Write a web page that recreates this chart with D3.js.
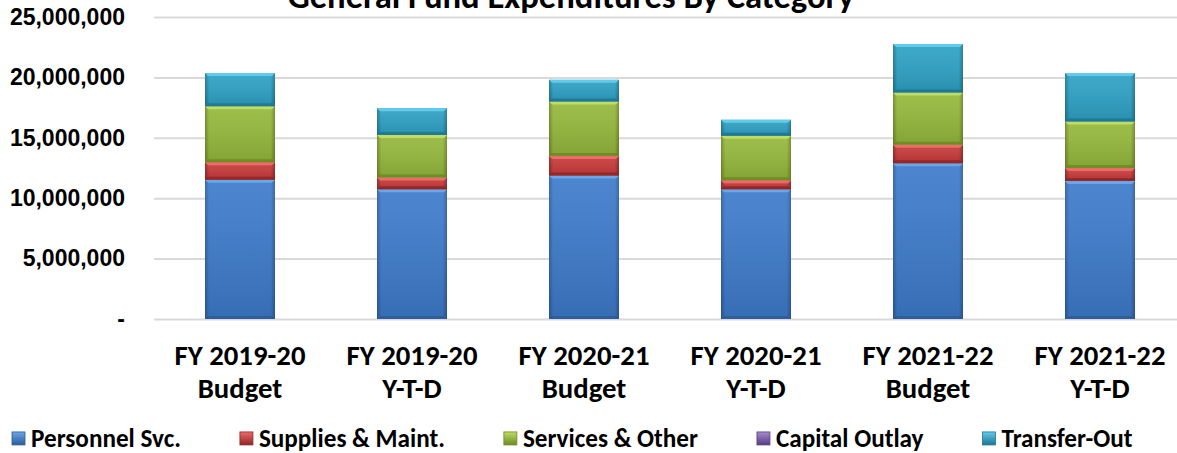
<!DOCTYPE html>
<html>
<head>
<meta charset="utf-8">
<script src="https://cdn.jsdelivr.net/npm/d3@7"></script>
<style>
  html, body { margin: 0; padding: 0; background: #ffffff; }
  svg { display: block; }
  .lbl { font-family: Calibri, Carlito, Lato, "Open Sans", sans-serif; font-weight: 700; fill: #000; }
  .ytick text { font-family: "Liberation Sans", Arial, sans-serif; font-weight: 700; font-size: 23px; fill: #000; }
</style>
</head>
<body>
<svg id="chart" width="1177" height="453"></svg>
<script>
// Category labels (two lines each)
const catYears = ["FY 2019-20", "FY 2019-20", "FY 2020-21", "FY 2020-21", "FY 2021-22", "FY 2021-22"];
const catKinds = ["Budget", "Y-T-D", "Budget", "Y-T-D", "Budget", "Y-T-D"];

// Expenditures by category, dollars
const personnel = [11520000, 10740000, 11870000, 10740000, 12900000, 11430000];
const supplies  = [1460000, 970000, 1630000, 750000, 1520000, 1060000];
const services  = [4640000, 3530000, 4500000, 3670000, 4330000, 3860000];
const capital   = [0, 0, 0, 0, 0, 0];
const transfer  = [2740000, 2210000, 1800000, 1330000, 4010000, 4010000];

const seriesNames = ["Personnel Svc.", "Supplies & Maint.", "Services & Other", "Capital Outlay", "Transfer-Out"];
const yTicks = [0, 5000000, 10000000, 15000000, 20000000, 25000000];

const titleText = "General Fund Expenditures By Category";

// palette: [main, light top, dark edge]
const palette = [
  ["#3d7bcb", "#6aa6e8", "#2c5c9c"],
  ["#c93a3a", "#ee6b6b", "#8f2525"],
  ["#95b93c", "#bedd62", "#6c8a22"],
  ["#7b5ba8", "#a689d0", "#573d7f"],
  ["#2ea2c6", "#62cbea", "#1d7592"]
];

const W = 1177, H = 453;
const svg = d3.select("#chart");
const defs = svg.append("defs");

const columns = [personnel, supplies, services, capital, transfer];
const table = catYears.map((c, i) => {
  const row = { key: c + " " + catKinds[i] };
  seriesNames.forEach((s, j) => row[s] = columns[j][i]);
  return row;
});
const stacked = d3.stack().keys(seriesNames)(table);

const plotLeft = 154, step = 172;
const x = d3.scaleBand()
  .domain(table.map(d => d.key))
  .range([plotLeft, plotLeft + step * table.length])
  .paddingInner(0.593)
  .paddingOuter(0.2965);
const y = d3.scaleLinear().domain([0, 25000000]).range([319, 17]);

// horizontal gradients for bar bodies
palette.forEach((p, j) => {
  const g = defs.append("linearGradient").attr("id", "body" + j)
    .attr("x1", "0").attr("x2", "1").attr("y1", "0").attr("y2", "0");
  g.append("stop").attr("offset", "0").attr("stop-color", p[2]);
  g.append("stop").attr("offset", "0.06").attr("stop-color", p[0]);
  g.append("stop").attr("offset", "0.94").attr("stop-color", p[0]);
  g.append("stop").attr("offset", "1").attr("stop-color", p[2]);
  const v = defs.append("linearGradient").attr("id", "shade" + j)
    .attr("x1", "0").attr("x2", "0").attr("y1", "0").attr("y2", "1");
  v.append("stop").attr("offset", "0").attr("stop-color", "#ffffff").attr("stop-opacity", 0.08);
  v.append("stop").attr("offset", "1").attr("stop-color", "#000000").attr("stop-opacity", 0.12);
  const m = defs.append("linearGradient").attr("id", "mark" + j)
    .attr("x1", "0").attr("x2", "0").attr("y1", "0").attr("y2", "1");
  m.append("stop").attr("offset", "0").attr("stop-color", p[1]);
  m.append("stop").attr("offset", "1").attr("stop-color", p[2]);
});

// gridlines and y labels
const yAxis = d3.axisLeft(y)
  .tickValues(yTicks)
  .tickSize(-(W - plotLeft))
  .tickPadding(29)
  .tickFormat(v => v === 0 ? "-" : d3.format(",")(v));
const ga = svg.append("g").attr("class", "ytick")
  .attr("transform", `translate(${plotLeft},0)`)
  .call(yAxis);
ga.select(".domain").remove();
ga.selectAll(".tick line").attr("stroke", "#d9d9d9").attr("stroke-width", 2);

// stacked bars with bevelled segments
const bw = x.bandwidth();
const bev = 3;
stacked.forEach((layer, j) => {
  const p = palette[j];
  const g = svg.append("g");
  layer.forEach((d, i) => {
    const y0 = y(d[0]), y1 = y(d[1]);
    const h = y0 - y1;
    if (h <= 0.5) return;
    const x0 = x(table[i].key);
    g.append("rect").attr("x", x0).attr("y", y1).attr("width", bw).attr("height", h)
      .attr("fill", `url(#body${j})`);
    g.append("rect").attr("x", x0).attr("y", y1).attr("width", bw).attr("height", h)
      .attr("fill", `url(#shade${j})`);
    const b = Math.min(bev, h / 3);
    g.append("polygon")
      .attr("points", [[x0, y1], [x0 + bw, y1], [x0 + bw - b, y1 + b], [x0 + b, y1 + b]].map(q => q.join(",")).join(" "))
      .attr("fill", p[1]);
    g.append("polygon")
      .attr("points", [[x0, y0], [x0 + bw, y0], [x0 + bw - b, y0 - b], [x0 + b, y0 - b]].map(q => q.join(",")).join(" "))
      .attr("fill", p[2]).attr("opacity", 0.85);
  });
});

// helper: size a label so its text spans a given width
function fitSize(sel, target) {
  sel.style("font-size", "100px");
  const w = sel.node().getComputedTextLength();
  const fs = 100 * target / w;
  return fs;
}

// title (partly above the top edge)
const title = svg.append("text").attr("class", "lbl").attr("text-anchor", "middle")
  .attr("x", 571).attr("y", 8).text(titleText);
title.style("font-size", fitSize(title, 567) + "px");

// category labels
const probe = svg.append("text").attr("class", "lbl").text(catYears[0]);
const catFs = fitSize(probe, 131);
probe.remove();
const cg = svg.append("g");
table.forEach((d, i) => {
  const cx = x(d.key) + bw / 2;
  cg.append("text").attr("class", "lbl").attr("text-anchor", "middle")
    .attr("x", cx).attr("y", 365).style("font-size", catFs + "px").text(catYears[i]);
  cg.append("text").attr("class", "lbl").attr("text-anchor", "middle")
    .attr("x", cx).attr("y", 398).style("font-size", catFs + "px").text(catKinds[i]);
});

// legend
const lp = svg.append("text").attr("class", "lbl").text(seriesNames[0]);
const legFs = fitSize(lp, 150);
lp.remove();
const lg = svg.append("g");
let tx = 31;
const baseY = 447;
seriesNames.forEach((s, j) => {
  const t = lg.append("text").attr("class", "lbl").attr("x", tx).attr("y", baseY)
    .style("font-size", legFs + "px").text(s);
  const cap = legFs * 0.68;
  lg.append("rect").attr("x", tx - 19).attr("y", baseY - cap / 2 - 6.5)
    .attr("width", 13).attr("height", 13).attr("fill", `url(#mark${j})`)
    .attr("stroke", palette[j][2]).attr("stroke-width", 0.8);
  tx += t.node().getComputedTextLength() + 78;
});
</script>
</body>
</html>
